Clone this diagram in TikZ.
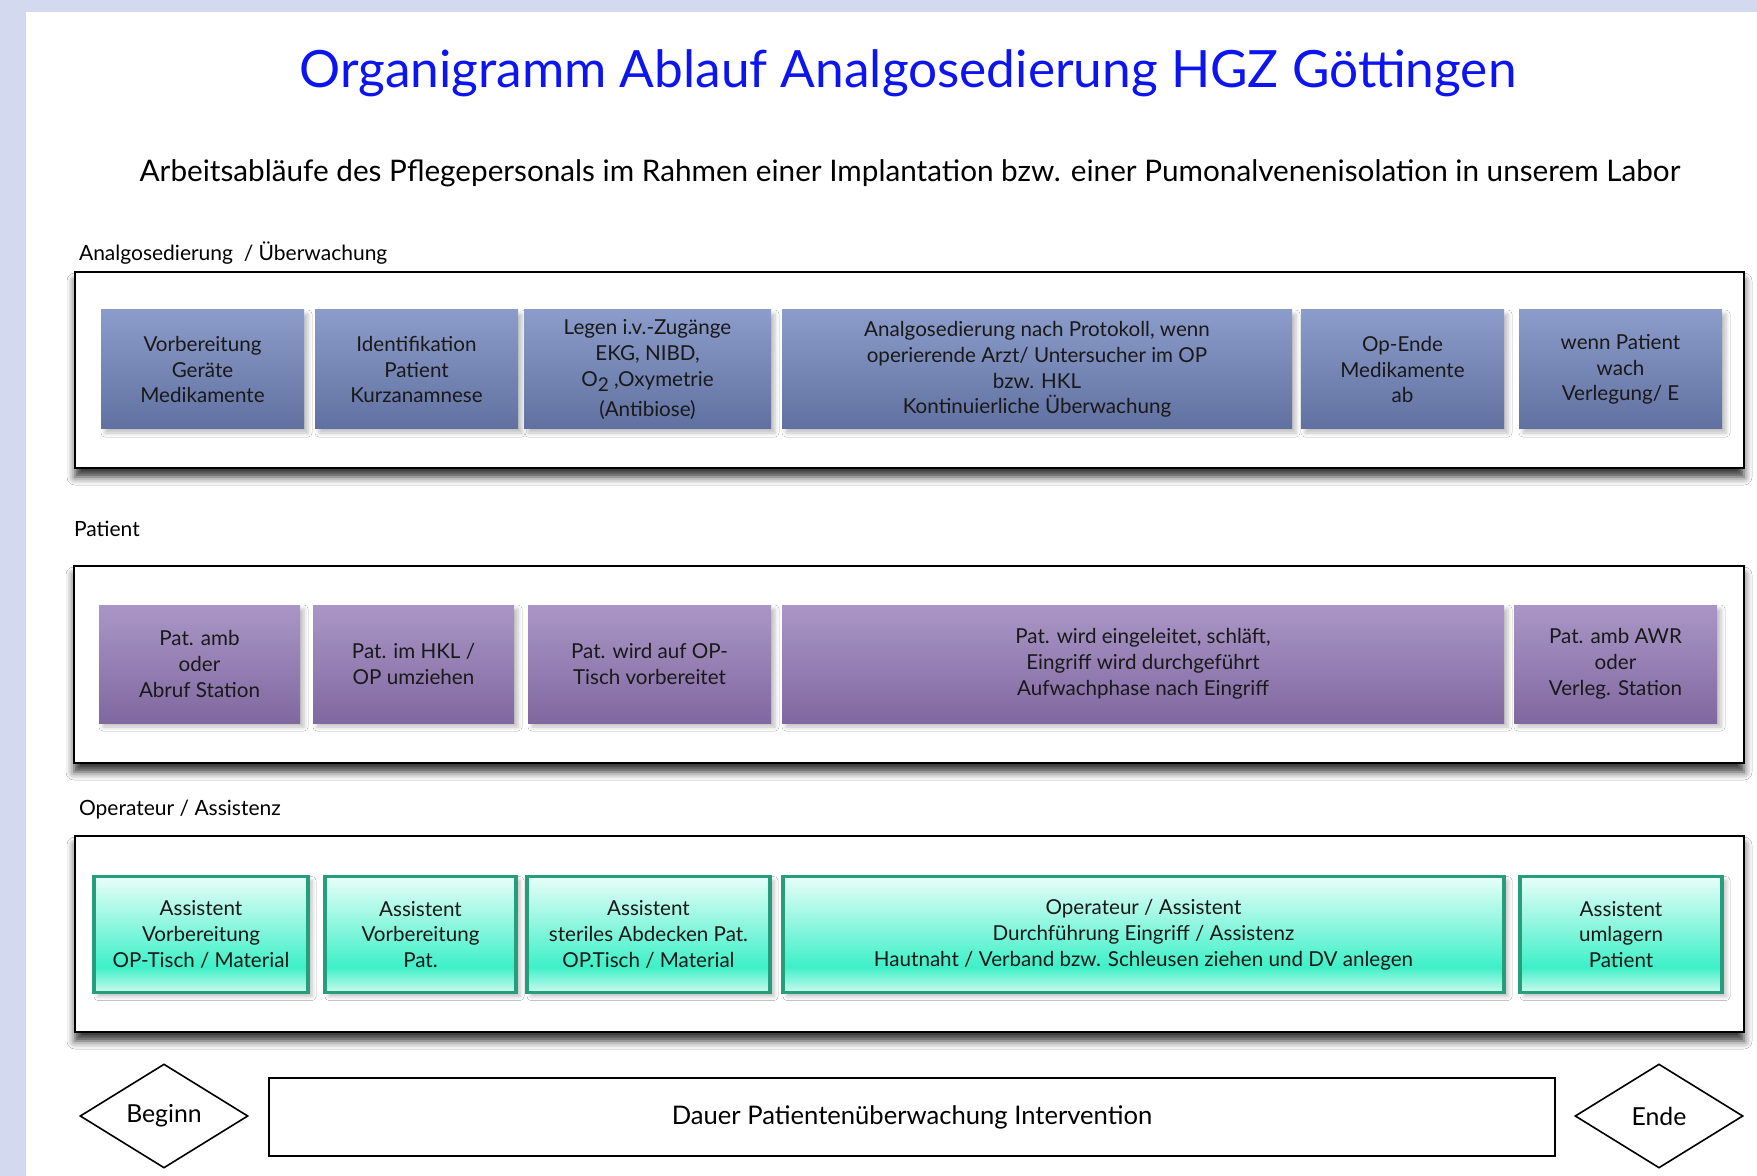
\documentclass[tikz,border=0pt]{standalone}
\usepackage{fontspec}
\setmainfont{Lato}
\usetikzlibrary{shapes.geometric,shadows.blur}

\definecolor{pagebg}{RGB}{211,217,238}
\definecolor{titleblue}{RGB}{12,20,240}
\definecolor{analgotop}{RGB}{140,156,202}
\definecolor{analgobot}{RGB}{96,112,160}
\definecolor{pattop}{RGB}{170,150,198}
\definecolor{patbot}{RGB}{128,104,160}
\definecolor{opborder}{RGB}{38,158,124}
\definecolor{oplight}{RGB}{232,254,248}
\definecolor{opmint}{RGB}{62,240,200}
\definecolor{opbottom}{RGB}{205,250,238}

\pgfdeclareverticalshading{mintshade}{100bp}{color(0bp)=(opbottom); color(25bp)=(opbottom); color(36bp)=(opmint); color(75bp)=(oplight); color(100bp)=(oplight)}

\tikzset{
  panel/.style={draw=black, line width=1pt, fill=white,
    blur shadow={shadow xshift=0pt, shadow yshift=-4.5pt, shadow blur radius=4pt, shadow opacity=80}},
  boxshadow/.style={blur shadow={shadow xshift=2pt, shadow yshift=-2pt, shadow blur radius=2pt, shadow opacity=25}},
  stepbase/.style={align=center, inner sep=2pt, text=black!90, font=\fontsize{10.3}{12.9}\selectfont, boxshadow},
  analgo/.style={stepbase, top color=analgotop, bottom color=analgobot, minimum height=59.5pt},
  patbox/.style={stepbase, top color=pattop, bottom color=patbot, minimum height=59pt},
  opbox/.style={stepbase, shading=mintshade, draw=opborder, line width=1.6pt, minimum height=58pt},
  lanelabel/.style={anchor=west, font=\fontsize{10.5}{13}\selectfont},
  endpoint/.style={diamond, draw=black, line width=0.8pt, fill=white, inner sep=0pt,
    minimum width=84pt, minimum height=52pt, font=\fontsize{12.4}{15}\selectfont},
}

\begin{document}
\begin{tikzpicture}[x=0.5pt, y=-0.5pt]

    % Hintergrund
    \useasboundingbox (0,0) rectangle (1757,1176);
    \fill[pagebg] (0,0) rectangle (1757,1176);
    \fill[white] (26,12) rectangle (1757,1176);

    % Titel
    \node[text=titleblue, font=\fontsize{25.7}{30}\selectfont] (title) at (908,73)
      {Organigramm Ablauf Analgosedierung HGZ Göttingen};
    \node[font=\fontsize{14.85}{18}\selectfont] (subtitle) at (910,173)
      {Arbeitsabläufe des Pflegepersonals im Rahmen einer Implantation bzw. einer Pumonalvenenisolation in unserem Labor};

    % Bereiche
    \node[lanelabel] (lanea) at (72,253) {Analgosedierung~~/ Überwachung};
    \draw[panel] (75,272) rectangle (1744,468);

    \node[lanelabel] (lanep) at (67,529) {Patient};
    \draw[panel] (74,566) rectangle (1744,763);

    \node[lanelabel] (laneo) at (72,810) {Operateur / Assistenz};
    \draw[panel] (75,836) rectangle (1744,1032);

    % Analgosedierung / Überwachung
    \node[analgo, minimum width=101.5pt] (ana1) at (202.5,369.5)
      {Vorbereitung\\Geräte\\Medikamente};
    \node[analgo, minimum width=101.5pt] (ana2) at (416.5,369.5)
      {Identifikation\\Patient\\Kurzanamnese};
    \node[analgo, minimum width=123.5pt] (ana3) at (647.5,369.5)
      {Legen i.v.-Zugänge\\EKG, NIBD,\\O\raisebox{-0.5ex}{\fontsize{9.5}{10}\selectfont 2} ,Oxymetrie\\[2pt](Antibiose)};
    \node[analgo, minimum width=255pt] (ana4) at (1037,369.5)
      {Analgosedierung nach Protokoll, wenn\\operierende Arzt/ Untersucher im OP\\bzw. HKL\\Kontinuierliche Überwachung};
    \node[analgo, minimum width=101.5pt] (ana5) at (1402.5,369.5)
      {Op-Ende\\Medikamente\\ab};
    \node[analgo, minimum width=101.5pt] (ana6) at (1620.5,369.5)
      {wenn Patient\\wach\\Verlegung/ E};

    % Patient
    \node[patbox, minimum width=100.5pt] (pat1) at (199.5,664)
      {Pat. amb\\oder\\Abruf Station};
    \node[patbox, minimum width=100.5pt] (pat2) at (413.5,664)
      {Pat. im HKL /\\OP umziehen};
    \node[patbox, minimum width=121.5pt] (pat3) at (649.5,664)
      {Pat. wird auf OP-\\Tisch vorbereitet};
    \node[patbox, minimum width=361pt] (pat4) at (1143,664)
      {Pat. wird eingeleitet, schläft,\\Eingriff wird durchgeführt\\Aufwachphase nach Eingriff};
    \node[patbox, minimum width=101.5pt] (pat5) at (1615.5,664)
      {Pat. amb AWR\\oder\\Verleg. Station};

    % Operateur / Assistenz
    \node[opbox, minimum width=107pt] (op1) at (201,934.5)
      {Assistent\\Vorbereitung\\OP-Tisch / Material};
    \node[opbox, minimum width=95.5pt] (op2) at (420.5,934.5)
      {Assistent\\Vorbereitung\\Pat.};
    \node[opbox, minimum width=121.5pt] (op3) at (648.5,934.5)
      {Assistent\\steriles Abdecken Pat.\\OP.Tisch / Material};
    \node[opbox, minimum width=360.5pt] (op4) at (1143.5,934.5)
      {Operateur / Assistent\\Durchführung Eingriff / Assistenz\\Hautnaht / Verband bzw. Schleusen ziehen und DV anlegen};
    \node[opbox, minimum width=101pt] (op5) at (1621,934.5)
      {Assistent\\umlagern\\Patient};

    % Zeitleiste
    \node[endpoint] (beginn) at (164,1116) {Beginn};
    \node[draw=black, line width=1pt, minimum width=643pt, minimum height=39pt,
      font=\fontsize{12.8}{15}\selectfont] (dauer) at (912,1117)
      {Dauer Patientenüberwachung Intervention};
    \node[endpoint] (ende) at (1659,1116) {Ende};

\end{tikzpicture}
\end{document}
